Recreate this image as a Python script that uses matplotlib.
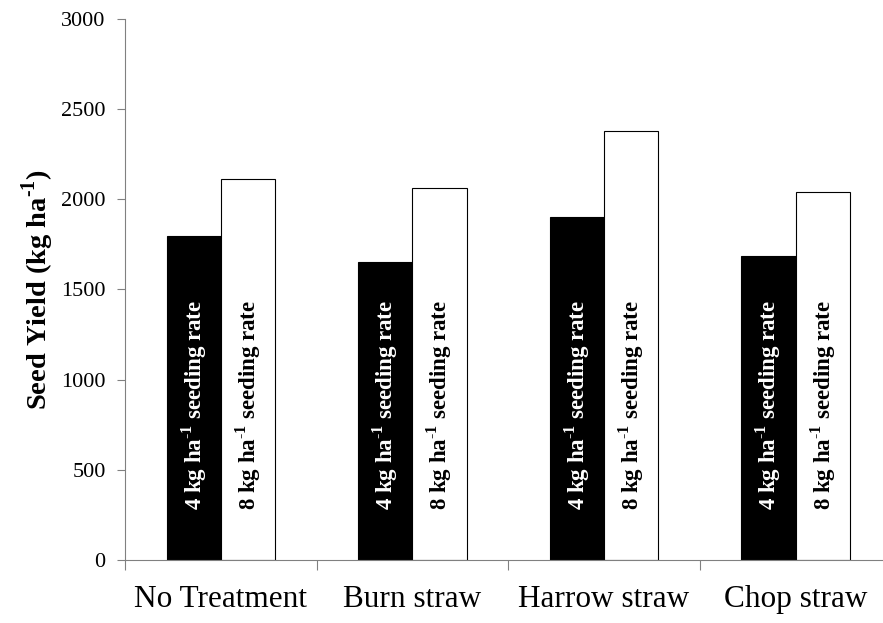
import numpy as np
import matplotlib
matplotlib.use("Agg")
import matplotlib.pyplot as plt

plt.rcParams['font.family'] = ['Liberation Serif', 'DejaVu Serif']
plt.rcParams['mathtext.fontset'] = 'custom'
plt.rcParams['mathtext.rm'] = 'Liberation Serif'
plt.rcParams['mathtext.bf'] = 'Liberation Serif:bold'

# data
treatments = ["No Treatment", "Burn straw", "Harrow straw", "Chop straw"]
rate_4kg = [1795, 1650, 1900, 1685]
rate_8kg = [2110, 2060, 2380, 2040]
y_ticks = [0, 500, 1000, 1500, 2000, 2500, 3000]

fig = plt.figure(figsize=(8.83, 6.23), dpi=100)
ax = fig.add_axes([0.1416, 0.101, 0.868, 0.869])

x = np.arange(len(treatments))
w = 0.283
ax.bar(x - w / 2, rate_4kg, w, color='black', edgecolor='black', linewidth=0.8)
ax.bar(x + w / 2, rate_8kg, w, color='white', edgecolor='black', linewidth=0.8)

label4 = r"4 kg ha$^{\mathbf{\text{-}1}}$ seeding rate"
label8 = r"8 kg ha$^{\mathbf{\text{-}1}}$ seeding rate"
for xi in x:
    ax.text(xi - w / 2, 275, label4, rotation=90, ha='center', va='bottom',
            color='white', fontsize=16.5, fontweight='bold')
    ax.text(xi + w / 2, 275, label8, rotation=90, ha='center', va='bottom',
            color='black', fontsize=16.5, fontweight='bold')

ax.set_xlim(-0.5, len(treatments) - 0.5)
ax.set_ylim(0, 3000)
ax.set_yticks(y_ticks)
ax.set_yticklabels([str(t) for t in y_ticks], fontsize=16)

# category labels centred, tick marks at boundaries
ax.set_xticks(np.arange(len(treatments) + 1) - 0.5)
ax.set_xticklabels([])
ax.set_xticks(x, minor=True)
ax.set_xticklabels(treatments, minor=True, fontsize=22.5)
ax.tick_params(axis='x', which='minor', length=0, pad=18)
ax.tick_params(axis='x', which='major', length=7, color='#808080')
ax.tick_params(axis='y', length=6, color='#808080', pad=8)

for side in ['top', 'right']:
    ax.spines[side].set_visible(False)
for side in ['left', 'bottom']:
    ax.spines[side].set_color('#808080')
    ax.spines[side].set_linewidth(0.8)

ax.set_ylabel(r"Seed Yield (kg ha$^{\mathbf{\text{-}1}}$)", fontsize=20.5, fontweight='bold', labelpad=4)

plt.savefig("out.png", dpi=100)
